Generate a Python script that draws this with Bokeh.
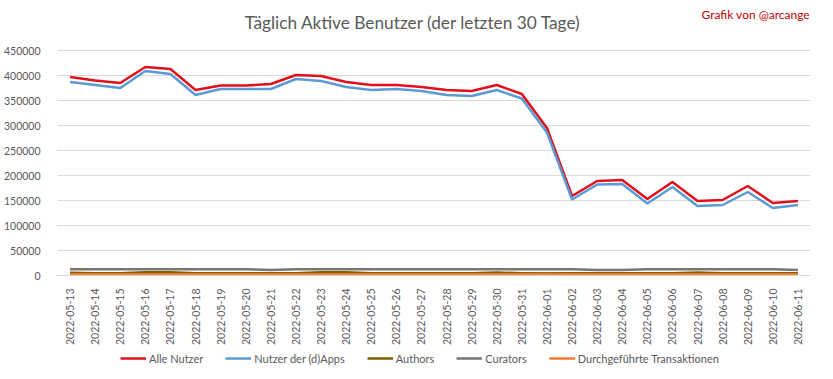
from bokeh.plotting import figure
from bokeh.layouts import column
from bokeh.models import (FactorRange, Range1d, FixedTicker, NumeralTickFormatter,
                          Label, Legend, LegendItem)
from bokeh.embed import file_html
from bokeh.resources import INLINE
from math import pi

dates = ["2022-05-13", "2022-05-14", "2022-05-15", "2022-05-16", "2022-05-17",
         "2022-05-18", "2022-05-19", "2022-05-20", "2022-05-21", "2022-05-22",
         "2022-05-23", "2022-05-24", "2022-05-25", "2022-05-26", "2022-05-27",
         "2022-05-28", "2022-05-29", "2022-05-30", "2022-05-31", "2022-06-01",
         "2022-06-02", "2022-06-03", "2022-06-04", "2022-06-05", "2022-06-06",
         "2022-06-07", "2022-06-08", "2022-06-09", "2022-06-10", "2022-06-11"]

alle_nutzer = [397000, 390000, 385000, 417000, 413000, 371000, 380000, 380000, 383000, 401000,
               399000, 387000, 381000, 381000, 377000, 371000, 369000, 381000, 363000, 295000,
               159000, 189000, 191000, 153000, 187000, 149000, 151000, 179000, 145000, 149000]

dapps = [387000, 381000, 375000, 409000, 403000, 361000, 373000, 373000, 373000, 393000,
         389000, 377000, 371000, 373000, 369000, 361000, 359000, 371000, 354000, 286000,
         152000, 182000, 183000, 144000, 177000, 139000, 141000, 167000, 135000, 141000]

authors = [5500, 4500, 4500, 6500, 6500, 4500, 4500, 4500, 4500, 4500,
           6500, 6500, 4500, 4500, 4500, 4500, 4500, 6000, 4500, 4500,
           4500, 4500, 4500, 4500, 4500, 6000, 4500, 4500, 4500, 4500]

curators = [12600, 12600, 12600, 12600, 12600, 12600, 12600, 12600, 10800, 12600,
            12600, 12600, 12600, 12600, 12600, 12600, 12600, 12600, 12600, 12600,
            12600, 11000, 11000, 12600, 12600, 12600, 12600, 12600, 12600, 11000]

transaktionen = [2600, 2600, 2600, 2600, 2600, 2600, 2600, 2600, 2600, 2600,
                 2600, 2600, 2600, 2600, 2600, 2600, 2600, 2600, 2600, 3000,
                 2600, 2600, 2600, 2600, 2600, 2600, 2600, 2600, 2600, 2600]

y_ticks = [0, 50000, 100000, 150000, 200000, 250000, 300000, 350000, 400000, 450000]

series_names = ["Alle Nutzer", "Nutzer der (d)Apps", "Authors", "Curators",
                "Durchgeführte Transaktionen"]
series_values = [alle_nutzer, dapps, authors, curators, transaktionen]
series_colors = ["#E3101B", "#5B9BD5", "#7F6000", "#767676", "#ED7D31"]

FONT = "Lato"
TXT = "#595959"

p = figure(width=817, height=351, x_range=FactorRange(factors=dates),
           y_range=Range1d(0, 550000), output_backend="svg", toolbar_location=None,
           min_border_left=49, min_border_right=7, min_border_top=0, min_border_bottom=76)
p.outline_line_color = None
p.border_fill_color = "white"

p.xgrid.grid_line_color = None
p.ygrid.grid_line_color = "#D9D9D9"
p.ygrid.grid_line_width = 1

p.yaxis.ticker = FixedTicker(ticks=y_ticks)
p.yaxis.formatter = NumeralTickFormatter(format="0")
p.yaxis.axis_line_color = None
p.yaxis.major_tick_line_color = None
p.yaxis.minor_tick_line_color = None
p.yaxis.major_label_standoff = 11
p.yaxis.major_label_text_font = FONT
p.yaxis.major_label_text_font_size = "10.5px"
p.yaxis.major_label_text_color = TXT

p.xaxis.axis_line_color = "#D9D9D9"
p.xaxis.major_tick_line_color = None
p.xaxis.minor_tick_line_color = None
p.xaxis.major_label_orientation = pi / 2
p.xaxis.major_label_standoff = 7
p.xaxis.major_label_text_font = FONT
p.xaxis.major_label_text_font_size = "10.5px"
p.xaxis.major_label_text_color = TXT

for vals, col in zip(series_values, series_colors):
    p.line(dates, vals, line_color=col, line_width=2.5)

title = Label(x=14.17, y=506000, text="Täglich Aktive Benutzer (der letzten 30 Tage)",
              text_align="center", text_baseline="middle", text_font=FONT,
              text_font_size="17.3px", text_color=TXT)
p.add_layout(title)

credit = Label(x=29.98, y=522000, text="Grafik von @arcange", text_align="right",
               text_baseline="middle", text_font=FONT, text_font_size="12px",
               text_color="#C00000")
p.add_layout(credit)

# legend strip below the chart
lg = figure(width=817, height=22, x_range=FactorRange(factors=dates),
            y_range=Range1d(-2, -1), output_backend="svg", toolbar_location=None,
            x_axis_type=None, y_axis_type=None, min_border=0)
lg.outline_line_color = None
lg.xgrid.grid_line_color = None
lg.ygrid.grid_line_color = None
rs = [lg.line(dates, vals, line_color=col, line_width=2.5)
      for vals, col in zip(series_values, series_colors)]
legend = Legend(items=[LegendItem(label=n, renderers=[r]) for n, r in zip(series_names, rs)],
                orientation="horizontal", location=(63, 8),
                glyph_width=26, glyph_height=14, label_standoff=3, spacing=22,
                padding=0, margin=0, background_fill_alpha=0, border_line_color=None,
                label_text_font=FONT, label_text_font_size="11px", label_text_color=TXT)
lg.add_layout(legend, "center")

layout = column(p, lg, spacing=0)
open("out.html", "w").write(file_html(layout, INLINE))
